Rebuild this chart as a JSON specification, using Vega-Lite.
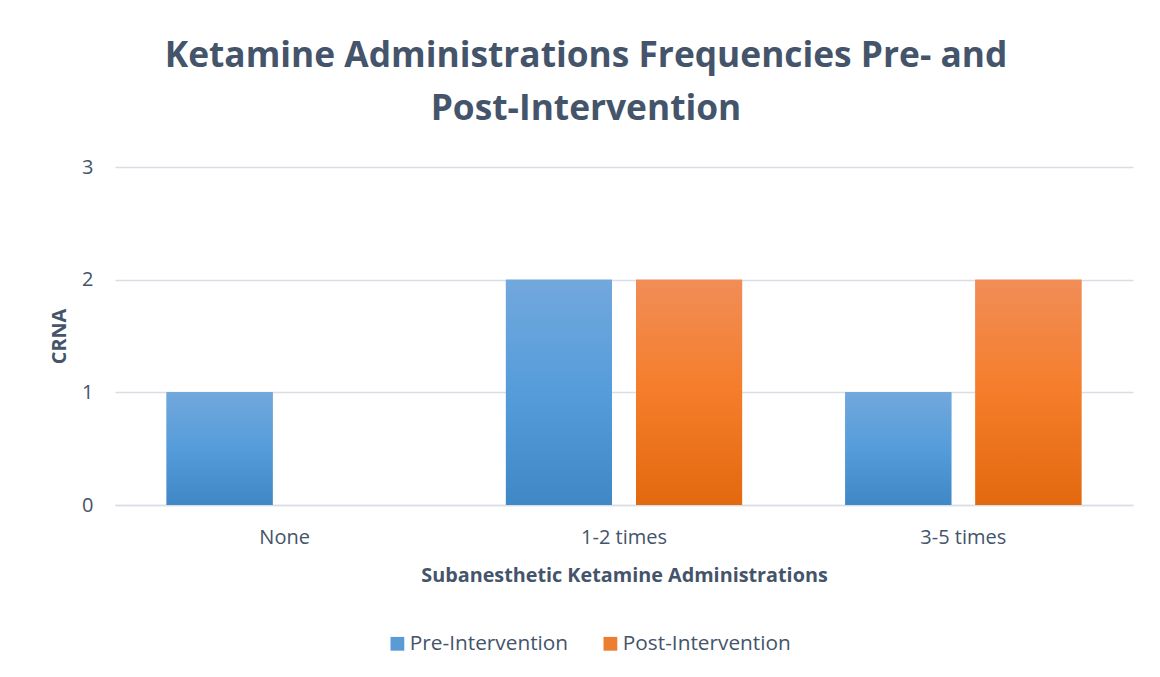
{
  "$schema": "https://vega.github.io/schema/vega-lite/v6.json",
  "width": 1018,
  "height": 338,
  "autosize": {"type": "none"},
  "padding": {"left": 115, "top": 167, "right": 27, "bottom": 172},
  "background": "white",
  "title": {
    "text": ["Ketamine Administrations Frequencies Pre- and", "Post-Intervention"],
    "font": "Open Sans",
    "fontSize": 35.3,
    "fontWeight": "bold",
    "color": "#44546A",
    "lineHeight": 53,
    "anchor": "middle",
    "frame": "group",
    "dx": -38,
    "offset": 30
  },
  "config": {
    "view": {"stroke": null},
    "font": "Open Sans"
  },
  "data": {
    "values": [
      {"category": "None", "series": "Pre-Intervention", "value": 1},
      {"category": "None", "series": "Post-Intervention", "value": 0},
      {"category": "1-2 times", "series": "Pre-Intervention", "value": 2},
      {"category": "1-2 times", "series": "Post-Intervention", "value": 2},
      {"category": "3-5 times", "series": "Pre-Intervention", "value": 1},
      {"category": "3-5 times", "series": "Post-Intervention", "value": 2}
    ]
  },
  "encoding": {
    "x": {
      "field": "category",
      "type": "nominal",
      "sort": ["None", "1-2 times", "3-5 times"],
      "scale": {"paddingInner": 0.304, "paddingOuter": 0.152},
      "axis": {
        "title": "Subanesthetic Ketamine Administrations",
        "titleFont": "Open Sans",
        "titleFontSize": 19.8,
        "titleFontWeight": "bold",
        "titleColor": "#44546A",
        "titlePadding": 18,
        "labelFont": "Open Sans",
        "labelFontSize": 20,
        "labelColor": "#44546A",
        "labelAngle": 0,
        "labelPadding": 22,
        "ticks": false,
        "domain": true,
        "domainColor": "#D9DEE6",
        "domainWidth": 1.5
      }
    },
    "xOffset": {
      "field": "series",
      "type": "nominal",
      "scale": {"domain": ["Pre-Intervention", "Post-Intervention"], "paddingInner": 0.1846, "paddingOuter": 0}
    },
    "y": {
      "field": "value",
      "type": "quantitative",
      "scale": {"domain": [0, 3], "nice": false},
      "axis": {
        "title": "CRNA",
        "titleFont": "Open Sans",
        "titleFontSize": 19.8,
        "titleFontWeight": "bold",
        "titleColor": "#44546A",
        "titlePadding": 12,
        "values": [0, 1, 2, 3],
        "format": "d",
        "labelFont": "Open Sans",
        "labelFontSize": 20,
        "labelColor": "#44546A",
        "labelPadding": 22,
        "ticks": false,
        "domain": false,
        "grid": true,
        "gridColor": "#D9DEE6",
        "gridWidth": 1.5
      }
    }
  },
  "layer": [
    {
      "mark": {"type": "bar"},
      "encoding": {
        "color": {
          "field": "series",
          "type": "nominal",
          "scale": {"domain": ["Pre-Intervention", "Post-Intervention"], "range": ["#5B9BD5", "#ED7D31"]},
          "legend": {
            "title": null,
            "orient": "none",
            "legendX": 272,
            "legendY": 466,
            "direction": "horizontal",
            "symbolType": "square",
            "symbolSize": 190,
            "symbolStrokeWidth": 0,
            "labelFont": "Open Sans",
            "labelFontSize": 20.8,
            "labelColor": "#44546A",
            "labelLimit": 400,
            "columnPadding": 31,
            "labelOffset": 2
          }
        }
      }
    },
    {
      "mark": {"type": "bar"},
      "encoding": {
        "fill": {
          "condition": {
            "test": "datum.series === 'Pre-Intervention'",
            "value": {
              "gradient": "linear", "x1": 0, "y1": 0, "x2": 0, "y2": 1,
              "stops": [
                {"offset": 0, "color": "#72A8DC"},
                {"offset": 0.5, "color": "#559CDB"},
                {"offset": 1, "color": "#3F87C5"}
              ]
            }
          },
          "value": {
            "gradient": "linear", "x1": 0, "y1": 0, "x2": 0, "y2": 1,
            "stops": [
              {"offset": 0, "color": "#F18D57"},
              {"offset": 0.5, "color": "#F57D2A"},
              {"offset": 1, "color": "#E3690F"}
            ]
          }
        }
      }
    }
  ]
}
